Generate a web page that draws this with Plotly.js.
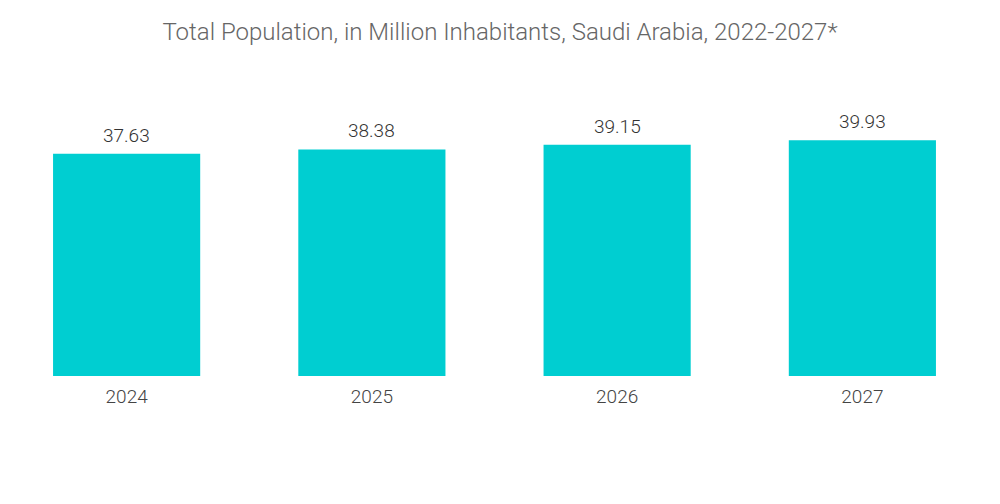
<!DOCTYPE html>
<html><head><meta charset="utf-8">
<script src="https://cdn.plot.ly/plotly-3.0.1.min.js"></script>
<style>html,body{margin:0;padding:0;background:#fff}#chart{width:1000px;height:504px}</style>
</head><body><div id="chart"></div>
<script>
const years = ['2024', '2025', '2026', '2027'];
const population = [37.63, 38.38, 39.15, 39.93];
const labels = population.map(v => v.toFixed(2));

const annotations = years.map((y, i) => ({
  x: i, y: population[i], text: labels[i], showarrow: false,
  xref: 'x', yref: 'y', yanchor: 'bottom', yshift: 5,
  font: {family: 'Roboto, sans-serif', size: 19, color: '#333', weight: 300}
}));

Plotly.newPlot('chart', [{
  type: 'bar', x: years, y: population,
  marker: {color: '#00CED1'}, hoverinfo: 'none'
}], {
  width: 1000, height: 504,
  margin: {l: 4, r: 15, t: 128, b: 128},
  bargap: 0.4,
  annotations: annotations,
  title: {text: 'Total Population, in Million Inhabitants, Saudi Arabia, 2022-2027*',
    font: {family: 'Roboto, sans-serif', size: 24, color: '#666', weight: 300}, x: 0.5, xanchor: 'center', y: 0.937, yanchor: 'middle'},
  xaxis: {type: 'category', categoryorder: 'array', categoryarray: years, range: [-0.5, 3.5],
    showgrid: false, showline: false, ticks: '', ticklabelstandoff: 7,
    tickfont: {family: 'Roboto, sans-serif', size: 19, color: '#444', weight: 300}},
  yaxis: {range: [0, 42], visible: false, showgrid: false, zeroline: false},
  paper_bgcolor: '#fff', plot_bgcolor: '#fff', showlegend: false
}, {displayModeBar: false, staticPlot: true});
</script></body></html>
